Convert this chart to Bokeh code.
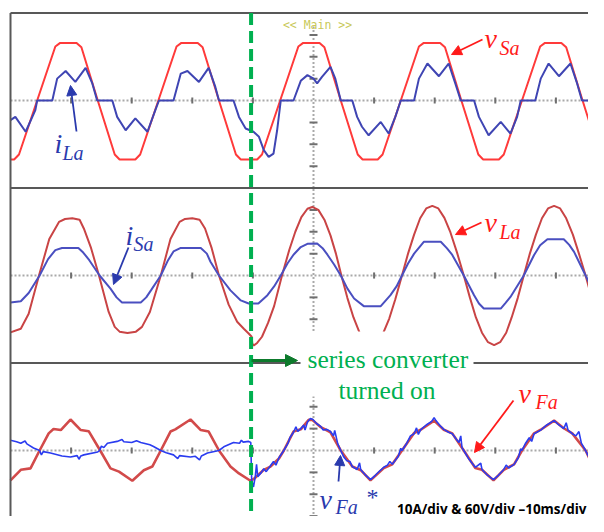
from bokeh.plotting import figure
from bokeh.models import Range1d, Arrow, NormalHead
from bokeh.core.properties import value
from bokeh.embed import file_html
from bokeh.resources import INLINE

# ---------------- data (time in ms, volts / amps) ----------------
# Panel 1: source voltage v_Sa (V) and load current i_La (A)
t_vSa = [-50.0, -49.4, -48.6, -45.6, -42.6, -41.8, -39.1, -38.3, -35.6, -32.8,
         -32.0, -29.4, -28.6, -25.6, -22.6, -21.8, -19.1, -18.3, -15.6, -12.8,
         -12.0, -9.3, -8.5, -5.5, -2.5, -1.7, 1.0, 1.8, 4.5, 7.3,
         8.1, 10.6, 11.4, 14.4, 17.4, 18.2, 20.9, 21.7, 24.4, 27.2,
         28.0, 30.6, 31.4, 34.4, 37.4, 38.2, 40.9, 41.7, 44.4, 47.2]
v_Sa = [-162, -162, -148, 0, 148, 158, 158, 146, 0, -148,
        -162, -162, -148, 0, 148, 158, 158, 146, 0, -148,
        -162, -162, -148, 0, 148, 158, 158, 146, 0, -148,
        -162, -162, -148, 0, 148, 158, 158, 146, 0, -148,
        -162, -162, -148, 0, 148, 158, 158, 146, 0, -148]

t_iLa = [-50.0, -49.2, -47.5, -45.9, -45.6, -43.1, -42.3, -40.9, -39.3, -37.6,
         -36.5, -35.7, -33.2, -32.4, -31.0, -29.4, -27.4, -26.1, -25.5, -23.1,
         -21.9, -20.8, -18.9, -17.3, -16.2, -15.6, -13.2, -12.3, -11.2, -9.9,
         -9.0, -8.2, -7.4, -6.6, -6.0, -5.4, -3.3, -2.1, -1.0, 0.0,
         0.6, 1.4, 2.8, 3.6, 4.5, 6.4, 7.2, 8.0, 9.1, 11.1,
         12.4, 13.5, 14.4, 16.6, 17.4, 18.8, 20.7, 22.3, 23.4, 24.3,
         26.5, 27.3, 28.9, 30.9, 32.5, 33.6, 34.2, 36.6, 37.5, 38.8,
         40.5, 42.4, 43.5, 44.3, 47.6, 48.0]
i_La = [-9.0, -7.5, -14.3, -4.4, 0, 0, 10.0, 13.5, 8.5, 14.9,
        7.8, 0, 0, -7.5, -13.6, -8.2, -14.3, -4.4, 0, 0,
        12.3, 13.5, 8.5, 14.9, 6.2, 0, 0, -7.5, -12.8, -14.3,
        -16.6, -22.7, -25.8, -24.3, -13.6, 0, 0, 9.0, 11.6, 10.0,
        7.8, 10.8, 15.4, 10.0, 0, 0, -7.5, -12.0, -15.9, -9.8,
        -15.1, -7.5, 0, 0, 10.0, 16.9, 11.1, 16.9, 7.8, 0,
        0, -7.5, -15.9, -9.8, -15.1, -7.5, 0, 0, 10.0, 16.9,
        11.1, 16.9, 7.8, 0, 0, -12.0]

# Panel 2: load voltage v_La (V) and source current i_Sa (A)
t_vLa = [-50.0, -48.3, -47.0, -45.3, -43.6, -42.0, -41.0, -39.8, -38.6, -37.9,
         -36.7, -35.4, -33.8, -32.8, -32.0, -30.7, -29.3, -28.3, -27.0, -25.2,
         -23.6, -22.1, -21.2, -20.0, -18.8, -17.9, -16.8, -15.6, -14.0, -12.6,
         -11.5, -10.7, -10.2, -10.1, -9.85, -9.3, -8.5, -7.5, -6.5, -5.2,
         -4.0, -3.0, -2.0, -1.0, -0.2, 0.8, 1.8, 2.8, 3.7, 4.6,
         5.6, 6.6, 7.6, 8.5, 9.5, 10.5, 11.5, 12.5, 13.5, 14.6,
         15.6, 16.6, 17.6, 18.6, 19.6, 20.6, 21.6, 22.6, 23.7, 24.8,
         25.8, 26.8, 27.8, 28.8, 29.8, 30.8, 31.8, 32.7, 33.7, 34.7,
         35.7, 36.7, 37.7, 38.7, 39.7, 40.7, 41.7, 42.8, 43.8, 44.9,
         45.9, 46.9, 48.0]
v_La = [-156, -146, -105, 0, 100, 147, 155, 157, 153, 129,
        75, 0, -100, -141, -154, -158, -154, -141, -100, 0,
        100, 147, 155, 157, 153, 129, 75, 0, -80, -127,
        -146, -159, -168, -187, -192, -185, -168, -130, -84, 0,
        70, 120, 160, 183, 188, 180, 153, 110, 60, 0,
        -62, -115, -157, -182, -190, -183, -158, -118, -65, 0,
        60, 112, 157, 184, 191, 184, 158, 118, 62, 0,
        -60, -115, -157, -183, -191, -183, -157, -115, -62, 0,
        60, 112, 157, 184, 191, 184, 157, 112, 60, 0,
        -60, -112, -157]

t_iSa = [-50.0, -48.3, -47.0, -45.2, -43.8, -42.6, -41.5, -38.8, -38.0, -37.0,
         -35.3, -33.5, -32.5, -31.6, -28.5, -27.6, -26.8, -25.2, -24.0, -23.1,
         -21.9, -18.6, -17.6, -17.0, -15.6, -13.7, -12.0, -10.7, -9.1, -7.6,
         -6.5, -5.4, -4.3, -3.3, -2.1, -1.0, 0.6, 1.5, 2.3, 3.4,
         4.5, 5.6, 6.7, 8.3, 11.1, 12.7, 13.7, 14.6, 15.6, 16.6,
         18.2, 21.0, 22.0, 22.9, 24.8, 26.5, 27.3, 28.1, 30.9, 31.7,
         32.5, 34.7, 36.4, 37.4, 38.6, 41.3, 42.2, 43.0, 44.9, 46.5,
         48.0]
i_Sa = [-12.3, -11.8, -8.0, 0, 7.5, 11.6, 12.6, 12.6, 10.5, 7.0,
        0, -6.0, -10.0, -12.3, -12.3, -10.0, -6.7, 0, 7.0, 11.0,
        12.6, 12.6, 10.0, 6.3, 0, -6.8, -11.4, -12.8, -12.8, -9.0,
        -5.0, 0, 5.5, 9.5, 13.0, 14.5, 14.6, 12.5, 9.5, 5.0,
        0, -6.0, -10.5, -14.0, -14.0, -9.0, -5.0, 0, 5.5, 10.0,
        15.4, 15.4, 12.5, 9.4, 0, -9.0, -12.8, -15.1, -15.1, -12.5,
        -9.8, 0, 9.4, 13.8, 16.6, 16.6, 14.0, 10.8, 0, -9.0,
        -12.8]

# Panel 3: series-filter voltage v_Fa (V) and its reference v_Fa* (V)
t_vFa = [-50.0, -48.3, -46.7, -45.2, -43.7, -42.9, -41.7, -40.1, -38.4, -37.1,
         -35.2, -33.5, -32.1, -29.9, -28.0, -26.6, -25.2, -23.6, -22.8, -20.3,
         -18.6, -17.3, -15.6, -13.7, -12.3, -10.4, -9.85, -8.2, -7.1, -5.7,
         -4.9, -3.3, -2.1, -0.8, -0.2, 1.2, 2.8, 4.5, 6.4, 7.8,
         9.4, 11.6, 13.0, 14.6, 16.6, 17.7, 19.9, 21.5, 22.9, 24.8,
         26.7, 27.8, 29.7, 31.4, 33.1, 34.4, 36.4, 37.5, 39.7, 41.3,
         42.7, 44.9, 46.3, 47.1, 48.0]
v_Fa = [-82, -53, -49, 0, 47, 59, 56, 85, 56, 53,
        0, -49, -58, -83, -54, -44, 0, 52, 58, 85,
        56, 52, 0, -44, -63, -83, -78, -53, -44, -22,
        0, 52, 58, 84, 84, 64, 50, 0, -44, -54,
        -82, -48, -38, 0, 48, 57, 82, 57, 47, 0,
        -48, -53, -82, -53, -38, 0, 47, 57, 82, 61,
        47, 0, -48, -51, -60]

t_vFs = [-50.0, -49.0, -48.3, -47.6, -47.3, -46.2, -45.2, -44.9, -44.6, -43.4,
         -41.5, -40.1, -39.0, -38.7, -38.4, -37.9, -35.6, -35.3, -35.0, -34.6,
         -34.0, -32.4, -31.6, -31.3, -30.0, -29.2, -28.5, -27.0, -26.4, -25.2,
         -24.3, -23.1, -22.4, -22.1, -20.3, -19.5, -18.8, -18.5, -17.5, -15.6,
         -14.8, -13.2, -12.2, -11.9, -11.6, -10.7, -10.35, -10.2, -9.9, -9.6,
         -9.4, -9.2, -8.6, -8.2, -7.8, -7.1, -6.6, -6.2, -5.7, -4.9,
         -4.2, -3.9, -3.3, -2.9, -2.6, -2.1, -1.6, -1.4, -1.0, -0.5,
         -0.1, 0.5, 1.2, 1.6, 2.2, 2.8, 3.3, 3.5, 4.0, 4.5,
         5.0, 5.5, 6.0, 6.4, 7.2, 7.6, 7.8, 8.5, 9.4, 10.2,
         11.0, 11.6, 12.2, 12.6, 13.0, 14.0, 14.4, 14.6, 15.4, 16.0,
         16.6, 17.0, 17.3, 17.7, 18.6, 19.5, 19.9, 20.2, 21.0, 21.5,
         22.3, 22.9, 23.6, 24.0, 24.3, 24.5, 24.8, 25.7, 26.7, 27.6,
         27.8, 28.6, 29.7, 30.5, 31.4, 31.8, 32.2, 33.1, 33.8, 34.2,
         34.4, 35.0, 35.6, 36.0, 36.4, 37.5, 38.5, 39.7, 40.5, 41.3,
         41.7, 42.0, 42.7, 43.3, 43.8, 44.2, 44.9, 45.5, 46.3, 46.6,
         47.1, 48.0]
v_Fs = [28, 24, 20, 26, 18, 7, 0, -12, -3, -7,
        -15, -18, -14, -24, -15, -12, -4, 0, 12, 8,
        20, 25, 30, 24, 22, 27, 22, 16, 11, 0,
        -6, -12, -22, -14, -18, -16, -26, -15, -7, 0,
        10, 22, 20, 28, 23, 25, 22, -82, -100, -70,
        -38, -72, -60, -50, -58, -42, -30, -40, -20, 0,
        20, 35, 50, 65, 52, 60, 70, 56, 78, 88,
        85, 74, 66, 56, 58, 52, 40, 55, 18, 0,
        -18, -28, -30, -44, -52, -34, -53, -66, -80, -68,
        -55, -46, -40, -30, -38, -16, 6, 0, 20, 40,
        46, 62, 44, 57, 70, 80, 90, 82, 66, 58,
        50, 46, 30, 22, 40, 8, 0, -25, -46, -35,
        -52, -66, -80, -68, -52, -40, -48, -38, -20, 5,
        0, 20, 35, 25, 46, 56, 70, 82, 70, 60,
        76, 56, 46, 40, 52, 20, 0, -20, -45, -30,
        -50, -58]

V_PER_DIV = 60.0    # 60 V/div
A_PER_DIV = 10.0    # 10 A/div
TIME_TICKS = [-40, -30, -20, -10, 10, 20, 30, 40]   # 10 ms/div
DIV_TICKS = [-3, -2, -1, 1, 2, 3]
T_SWITCH = -10.3    # instant the series converter is turned on (ms)

# ---------------- layout helpers (reference pixel -> data) ----------------
def X(px):
    return (px - 313.0) / 6.06


def Y(py):
    return (450.0 - py) / 21.875


W, H = 588, 516
OFF1, OFF2, OFF3 = 16.0, 8.0, 0.0   # zero level of each panel, in divisions

p = figure(width=W, height=H,
           x_range=Range1d(X(0), X(W)), y_range=Range1d(Y(H), Y(0)),
           output_backend="svg", toolbar_location=None,
           x_axis_type=None, y_axis_type=None, title=None,
           min_border=0, outline_line_color=None,
           background_fill_color="white", border_fill_color="white")

GRID = "#a9a9a9"
TICK = "#6f6f6f"
FRAME = "#585858"

# centre cross (dotted) of each panel
for off, top in ((OFF1, Y(26)), (OFF2, OFF2 + 4), (OFF3, OFF3 + 4)):
    p.segment(x0=[X(10)], y0=[off], x1=[X(610)], y1=[off],
              line_color=GRID, line_width=2, line_dash="2 2")
    p.segment(x0=[0], y0=[max(off - 4, Y(540))], x1=[0], y1=[top],
              line_color=GRID, line_width=2, line_dash="2 2")
    p.segment(x0=TIME_TICKS, y0=[off - 0.14] * len(TIME_TICKS),
              x1=TIME_TICKS, y1=[off + 0.14] * len(TIME_TICKS),
              line_color=TICK, line_width=2)
    p.segment(x0=[-0.66] * len(DIV_TICKS), y0=[off + k for k in DIV_TICKS],
              x1=[0.66] * len(DIV_TICKS), y1=[off + k for k in DIV_TICKS],
              line_color=TICK, line_width=2)

# traces
p.line(t_vSa, [v / V_PER_DIV + OFF1 for v in v_Sa], line_color="#ff3a3a", line_width=2)
p.line(t_iLa, [a / A_PER_DIV + OFF1 for a in i_La], line_color="#3f45b3", line_width=2)
p.line(t_vLa, [v / V_PER_DIV + OFF2 for v in v_La], line_color="#c94445", line_width=2)
p.line(t_iSa, [a / A_PER_DIV + OFF2 for a in i_Sa], line_color="#4a4fc0", line_width=2)
p.line(t_vFa, [v / V_PER_DIV + OFF3 for v in v_Fa], line_color="#d24a4a", line_width=2.6)
p.line(t_vFs, [v / V_PER_DIV + OFF3 for v in v_Fs], line_color="#2a3cf0", line_width=1.6)

# panel frames
p.segment(x0=[X(10)] * 3, y0=[OFF1 + 4, OFF2 + 4, OFF3 + 4],
          x1=[X(610)] * 3, y1=[OFF1 + 4, OFF2 + 4, OFF3 + 4],
          line_color=FRAME, line_width=2)
p.segment(x0=[-50.0], y0=[OFF1 + 4], x1=[-50.0], y1=[Y(540)],
          line_color=FRAME, line_width=2)

# switching instant
p.segment(x0=[T_SWITCH], y0=[OFF1 + 4], x1=[T_SWITCH], y1=[Y(540)],
          line_color="#00b050", line_width=4, line_dash="12 6")

# white box behind the caption
p.quad(left=[X(300)], right=[X(473)], top=[Y(331)], bottom=[Y(396)],
       fill_color="white", line_color=None)


def label(px, py, s, size, color, style="italic", font="Liberation Serif", align="left"):
    p.text(x=[X(px)], y=[Y(py)], text=[s], text_font=value(font),
           text_font_style=style, text_font_size=size, text_color=color,
           text_align=align, text_baseline="alphabetic")


def arrow(x0, y0, x1, y1, color, width=1.8, size=10):
    p.add_layout(Arrow(x_start=X(x0), y_start=Y(y0), x_end=X(x1), y_end=Y(y1),
                       line_color=color, line_width=width,
                       end=NormalHead(size=size, fill_color=color, line_color=color)))


RED = "#ff1a1a"
BLUE = "#2a3aad"
GREEN = "#00b050"

label(317, 24, "<< Main >>", "11.5px", "#c9c95a", style="normal",
      font="DejaVu Sans Mono", align="center")

label(484, 38, "v", "28px", RED)
label(499, 47, "Sa", "20px", RED)
arrow(482, 39, 451, 54, RED)

label(54, 143, "i", "28px", BLUE)
label(62, 152, "La", "20px", BLUE)
arrow(76, 131, 70, 85, BLUE)

label(484, 222, "v", "28px", RED)
label(499, 231, "La", "20px", RED)
arrow(481, 222, 455, 234, RED)

label(125, 235, "i", "28px", BLUE)
label(133, 243, "Sa", "20px", BLUE)
arrow(128, 247, 113, 284, BLUE)

label(518, 393, "v", "28px", RED)
label(535, 401, "Fa", "20px", RED)
arrow(513, 400, 474, 452, RED)

label(319, 499, "v", "28px", BLUE)
label(335, 506, "Fa", "20px", BLUE)
label(366, 496, "*", "24px", BLUE, style="normal")
arrow(338, 481, 340, 455, BLUE)

label(307, 359, "series converter", "25.5px", GREEN, style="normal")
label(338, 390, "turned on", "25.5px", GREEN, style="normal")
arrow(251, 360, 297, 360, "#0d7a2c", width=3, size=12)

label(586, 508, "10A/div & 60V/div \u201310ms/div", "13.5px", "black",
      style="bold", font="Open Sans", align="right")

open("out.html", "w").write(file_html(p, INLINE))
